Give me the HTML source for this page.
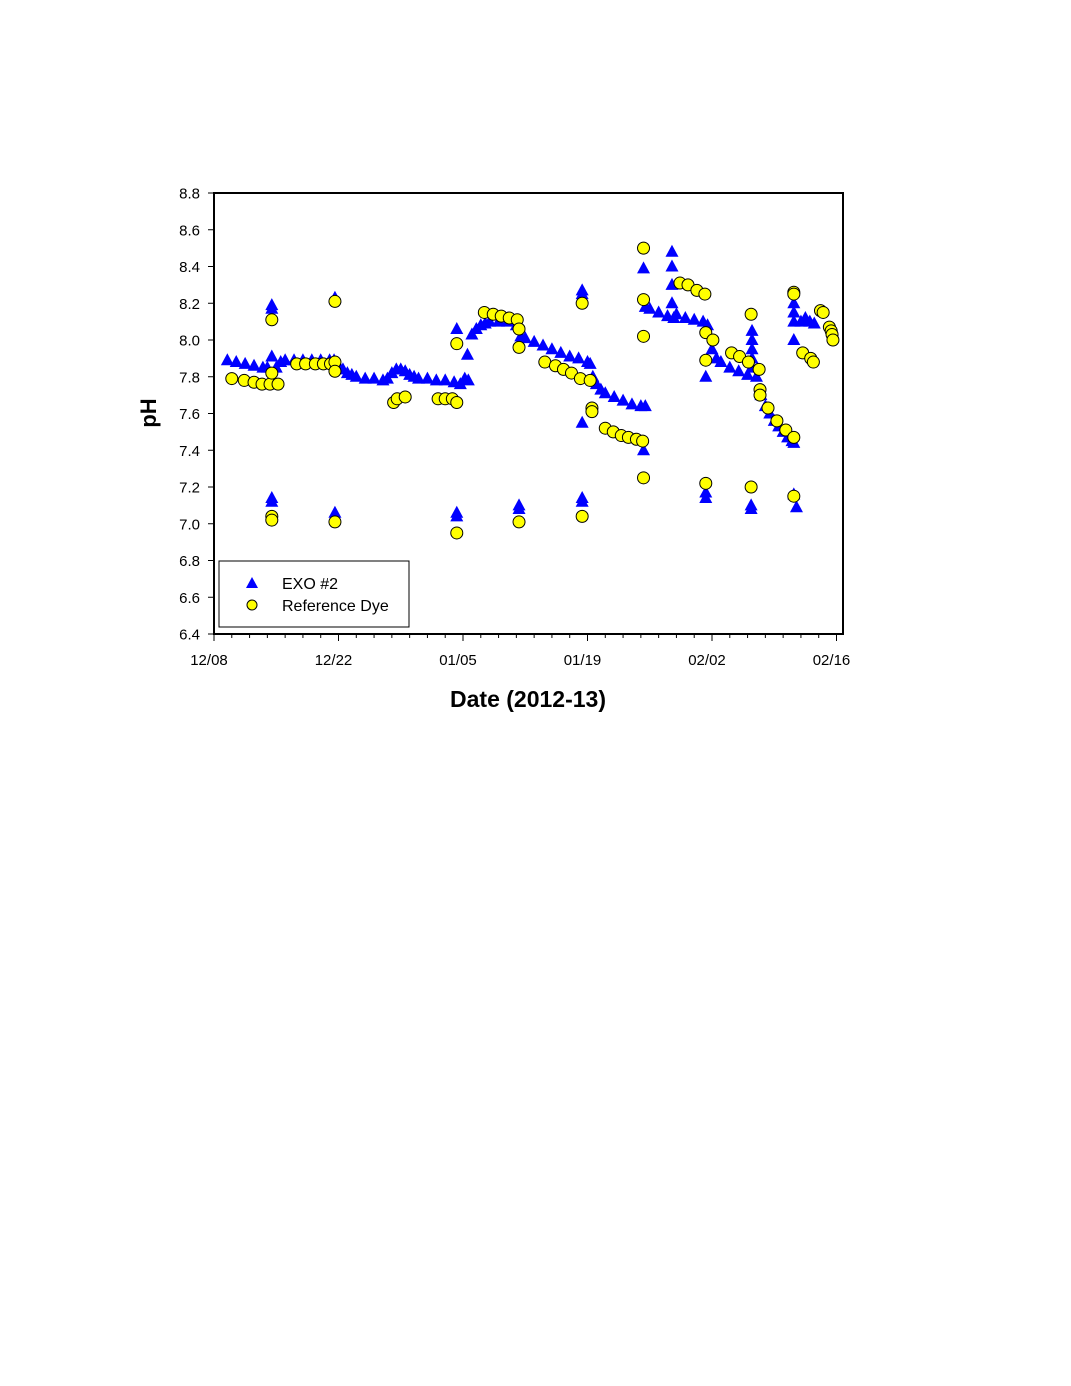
<!DOCTYPE html>
<html><head><meta charset="utf-8"><style>
body{margin:0;background:#fff;}
svg{display:block;font-family:"Liberation Sans",Arial,sans-serif;}
</style></head><body>
<svg id="chart" width="1071" height="1386" viewBox="0 0 1071 1386" xmlns="http://www.w3.org/2000/svg">
<rect width="1071" height="1386" fill="#fff"/>
<g id="marks"></g>
<g id="axes"></g>
<text x="528" y="707" text-anchor="middle" font-size="23" font-weight="bold">Date (2012-13)</text>
<text transform="translate(156,413) rotate(-90)" text-anchor="middle" font-size="22" font-weight="bold">pH</text>
<g>
<rect x="219" y="561" width="190" height="66" fill="#fff" stroke="#000" stroke-width="1"/>
<polygon points="252,577 258,588 246,588" fill="#0000ff"/>
<text x="282" y="589" font-size="16">EXO #2</text>
<circle cx="252" cy="605" r="5" fill="#ffff00" stroke="#000" stroke-width="1"/>
<text x="282" y="611" font-size="16">Reference Dye</text>
</g>
</svg>
<script>
const xTickLabels=["12/08","12/22","01/05","01/19","02/02","02/16"];
const yTickLabels=["6.4","6.6","6.8","7.0","7.2","7.4","7.6","7.8","8.0","8.2","8.4","8.6","8.8"];
const exoDays=[1.5,2.5,3.5,4.5,5.5,6.0,6.5,6.5,6.5,6.5,6.5,7.0,7.5,8,9,10,11,12,13,13.5,13.6,13.6,14,14.5,15,15.5,16,17,18,19,19.5,20,20.5,21,21.5,22,22.5,23,24,25,26,27,27.3,27.3,27.3,27.7,28.2,28.5,28.6,29,29.5,30,30.5,31,32,33,34,34.3,34.3,34.5,35,36,37,38,39,40,41,42,42.3,41.4,41.4,41.4,41.4,41.4,42.6,43,43.5,44,45,46,47,48,48.5,48.3,48.3,48.5,49,50,51,51.7,51.5,51.5,51.5,51.5,52,53,54,55,55.5,55.3,55.3,55.3,56,56.5,57,58,59,60,61,60.5,60.5,60.5,60.5,60.5,60.4,60.4,61.5,62,62.5,63,63.5,64,64.5,65,65.2,65.2,65.2,65.2,65.2,65.2,65.5,66,66.5,67,67.5];
const exoPH=[7.89,7.88,7.87,7.86,7.85,7.85,8.19,8.17,7.91,7.14,7.12,7.85,7.88,7.89,7.89,7.89,7.89,7.89,7.89,7.89,8.23,7.06,7.86,7.84,7.82,7.81,7.80,7.79,7.79,7.78,7.79,7.82,7.84,7.84,7.83,7.81,7.80,7.79,7.79,7.78,7.78,7.77,8.06,7.06,7.04,7.76,7.79,7.92,7.78,8.03,8.06,8.08,8.09,8.10,8.10,8.10,8.08,7.10,7.08,8.02,8.01,7.99,7.97,7.95,7.93,7.91,7.90,7.88,7.87,8.27,8.25,7.55,7.14,7.12,7.80,7.76,7.73,7.71,7.69,7.67,7.65,7.64,7.64,8.39,7.40,8.18,8.17,8.15,8.13,8.12,8.48,8.40,8.30,8.20,8.14,8.12,8.11,8.10,8.08,7.80,7.17,7.14,7.95,7.90,7.88,7.85,7.83,7.81,7.80,8.05,8.00,7.95,7.90,7.85,7.10,7.08,7.70,7.64,7.60,7.56,7.53,7.50,7.47,7.45,7.44,8.20,8.15,8.10,8.00,7.16,7.09,8.10,8.12,8.10,8.09,8.08];
const dyeDays=[2.0,3.4,4.5,5.4,6.3,7.2,6.5,6.5,6.5,6.5,9.3,10.3,11.4,12.3,13.1,13.6,13.6,13.6,13.6,20.2,20.6,21.5,25.2,26.0,26.8,27.3,27.3,27.3,30.4,31.4,32.3,33.2,34.1,34.3,34.3,34.3,37.2,38.4,39.3,40.2,41.2,42.3,41.4,41.4,42.5,42.5,44.0,44.9,45.8,46.6,47.5,48.2,48.3,48.3,48.3,48.3,52.4,53.3,54.3,55.2,55.3,55.3,55.3,56.1,58.2,59.1,60.1,61.3,60.4,60.4,61.4,61.4,62.3,63.3,64.3,65.2,65.2,65.2,65.2,66.2,67.1,67.4,68.2,68.5,69.2,69.4,69.5,69.6];
const dyePH=[7.79,7.78,7.77,7.76,7.76,7.76,8.11,7.82,7.04,7.02,7.87,7.87,7.87,7.87,7.87,7.88,7.83,8.21,7.01,7.66,7.68,7.69,7.68,7.68,7.68,7.66,7.98,6.95,8.15,8.14,8.13,8.12,8.11,8.06,7.96,7.01,7.88,7.86,7.84,7.82,7.79,7.78,8.20,7.04,7.63,7.61,7.52,7.50,7.48,7.47,7.46,7.45,8.50,8.22,8.02,7.25,8.31,8.30,8.27,8.25,8.04,7.89,7.22,8.00,7.93,7.91,7.88,7.84,8.14,7.20,7.73,7.70,7.63,7.56,7.51,7.47,8.26,8.25,7.15,7.93,7.90,7.88,8.16,8.15,8.07,8.05,8.03,8.00];

const NS="http://www.w3.org/2000/svg";
const X0=214,X1=843,Y0=634,Y1=193,DAYPX=(836.5-214)/70;
function xs(d){return X0+d*DAYPX;}
function ys(p){return Y0-(p-6.4)/(2.4)*(Y0-Y1);}
const marks=document.getElementById('marks');
const axes=document.getElementById('axes');
function mk(tag,attrs,parent){const e=document.createElementNS(NS,tag);for(const k in attrs)e.setAttribute(k,attrs[k]);parent.appendChild(e);return e;}

for(let i=0;i<exoDays.length;i++){
  const cx=xs(exoDays[i]),cy=ys(exoPH[i]);
  const t=mk('polygon',{points:`${cx},${cy-7} ${cx+6.5},${cy+5} ${cx-6.5},${cy+5}`,fill:'#0000ff'},marks);
  
  
}
for(let i=0;i<dyeDays.length;i++){
  const c=mk('circle',{cx:xs(dyeDays[i]),cy:ys(dyePH[i]),r:6,fill:'#ffff00',stroke:'#000','stroke-width':1},marks);
  
  
}
const frame=mk('rect',{x:X0,y:Y1,width:X1-X0,height:Y0-Y1,fill:'none',stroke:'#000','stroke-width':2},axes);


yTickLabels.forEach((lab,i)=>{
  const y=ys(parseFloat(lab));
  const tk=mk('line',{x1:X0-6,x2:X0,y1:y,y2:y,stroke:'#000','stroke-width':1},axes);
  
  
  const t=mk('text',{x:X0-14,y:y+5.5,'text-anchor':'end','font-size':15},axes);
  t.textContent=lab;
  
  
});
for(let d=0;d<=70;d+=2){
  const x=xs(d),major=d%14===0;
  const tk=mk('line',{x1:x,x2:x,y1:Y0,y2:Y0+(major?7:4),stroke:'#000','stroke-width':1},axes);
  
  
}
xTickLabels.forEach((lab,i)=>{
  const t=mk('text',{x:xs(i*14)-5,y:665,'text-anchor':'middle','font-size':15},axes);
  t.textContent=lab;
  
  
});
</script>
</body></html>
